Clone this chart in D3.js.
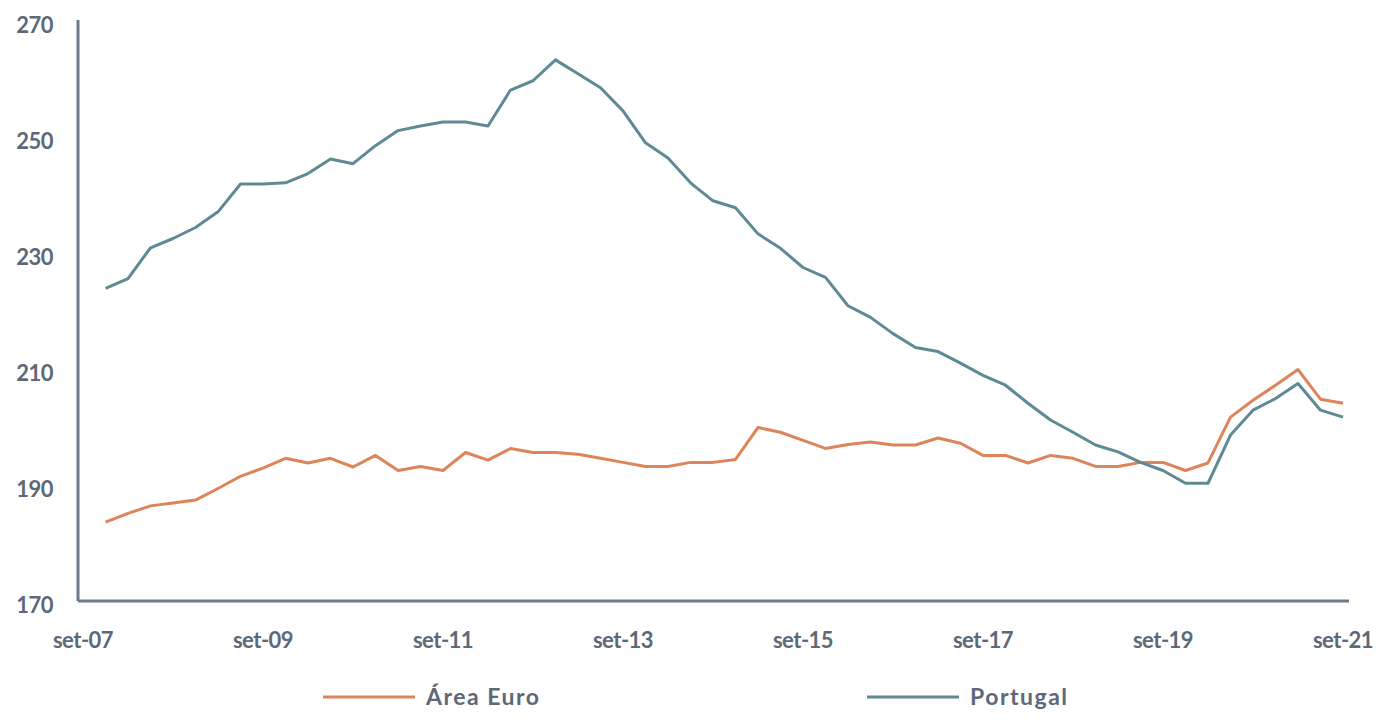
<!DOCTYPE html>
<html>
<head>
<meta charset="utf-8">
<script src="https://cdn.jsdelivr.net/npm/d3@7"></script>
<style>
  body { margin: 0; background: #fff; }
  svg text { font-family: Lato, "Open Sans", sans-serif; font-weight: bold; fill: #5d6878; }
</style>
</head>
<body>
<div id="chart"></div>
<script>
// quarters since set-07 (0 = set-07), data starts dez-07
let quarters = d3.range(1, 57);
let tickQuarters = [0, 8, 16, 24, 32, 40, 48, 56];
let tickLabels = ["set-07", "set-09", "set-11", "set-13", "set-15", "set-17", "set-19", "set-21"];
let yTicks = [170, 190, 210, 230, 250, 270];

let areaEuro = [183.6, 185.1, 186.4, 186.9, 187.4, 189.4, 191.5, 192.9, 194.6, 193.8,
    194.6, 193.1, 195.1, 192.5, 193.2, 192.5, 195.6, 194.3, 196.3, 195.6,
    195.6, 195.3, 194.6, 193.9, 193.2, 193.2, 193.9, 193.9, 194.4, 199.9,
    199.1, 197.7, 196.3, 197.0, 197.4, 196.9, 196.9, 198.1, 197.2, 195.1,
    195.1, 193.8, 195.1, 194.6, 193.2, 193.2, 193.9, 193.9, 192.5, 193.8,
    201.7, 204.6, 207.2, 209.9, 204.8, 204.1];

let portugal = [223.9, 225.6, 230.9, 232.5, 234.4, 237.1, 241.9, 241.9, 242.1, 243.7,
    246.2, 245.4, 248.5, 251.1, 251.9, 252.6, 252.6, 251.9, 258.1, 259.7,
    263.3, 260.9, 258.5, 254.5, 249.0, 246.4, 242.1, 239.0, 237.8, 233.3,
    230.8, 227.5, 225.8, 220.9, 218.9, 216.1, 213.7, 213.0, 211.0, 208.9,
    207.2, 204.1, 201.2, 199.1, 196.9, 195.7, 193.9, 192.5, 190.3, 190.3,
    198.6, 202.9, 204.9, 207.5, 202.9, 201.7];

let series = [
    {name: "Área Euro", values: areaEuro, color: "#dd845a"},
    {name: "Portugal", values: portugal, color: "#5f8a94"}
];

let width = 1384, height = 722;

let svg = d3.select("#chart").append("svg")
    .attr("width", width)
    .attr("height", height);

let x = d3.scaleLinear().domain([0, 56]).range([83, 1343]);
let y = d3.scaleLinear().domain([170, 270]).range([601, 21]);

let axisColor = "#6c7b8c";

// axis lines
svg.append("line")
    .attr("x1", 78).attr("x2", 78)
    .attr("y1", y(270) - 1).attr("y2", y(170))
    .style("stroke", axisColor).style("stroke-width", 3);
svg.append("line")
    .attr("x1", 78).attr("x2", 1349)
    .attr("y1", y(170)).attr("y2", y(170))
    .style("stroke", axisColor).style("stroke-width", 3);

// y labels
svg.append("g")
    .attr("transform", "translate(58,0)")
    .call(d3.axisLeft(y).tickValues(yTicks).tickSize(0).tickPadding(5))
    .call(g => g.select(".domain").remove())
    .call(g => g.selectAll("text")
        .attr("dy", "0.38em")
        .attr("transform", "translate(0,3)")
        .style("font-size", "22px")
        .style("letter-spacing", "-0.5px")
        .style("font-family", null));

// x labels
svg.append("g")
    .attr("class", "xlabels")
    .selectAll("text")
    .data(tickQuarters)
    .enter()
    .append("text")
    .attr("x", d => x(d))
    .attr("y", 648)
    .attr("text-anchor", "middle")
    .style("font-size", "22px")
    .style("letter-spacing", "-0.5px")
    .text((d, i) => tickLabels[i]);

let line = d3.line()
    .x((d, i) => x(quarters[i]))
    .y(d => y(d));

svg.selectAll(".series")
    .data(series)
    .enter()
    .append("path")
    .attr("class", "series")
    .attr("d", d => line(d.values))
    .style("fill", "none")
    .style("stroke", d => d.color)
    .style("stroke-width", 3)
    .style("stroke-linejoin", "round");

// legend
let legendX = [323, 867];
let legend = svg.selectAll(".legend")
    .data(series)
    .enter()
    .append("g")
    .attr("class", "legend")
    .attr("transform", (d, i) => "translate(" + legendX[i] + ",697)");

legend.append("line")
    .attr("x1", 0).attr("x2", 92)
    .style("stroke", d => d.color)
    .style("stroke-width", 3);

legend.append("text")
    .attr("x", 103)
    .attr("dy", "0.36em")
    .style("font-size", "23px")
    .style("letter-spacing", "1.5px")
    .text(d => d.name);
</script>
</body>
</html>
